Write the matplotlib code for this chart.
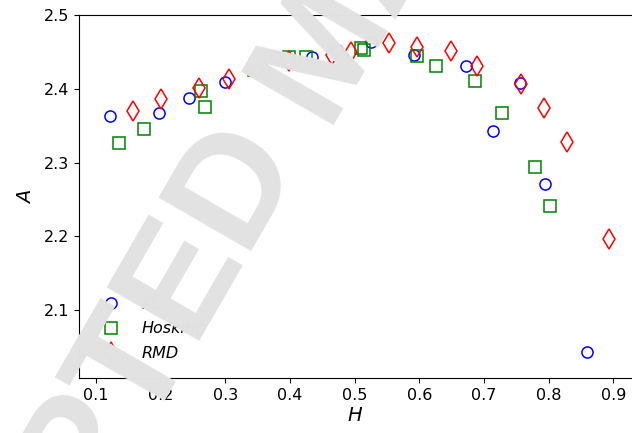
import numpy as np
import matplotlib
matplotlib.use('Agg')
import matplotlib.pyplot as plt

# values
h_blue = [0.122, 0.197, 0.244, 0.299, 0.349, 0.377, 0.434, 0.4735, 0.5255,
          0.592, 0.672, 0.7136, 0.756, 0.795, 0.859]
a_blue = [2.3635, 2.3675, 2.3875, 2.4096, 2.425, 2.4435, 2.4435, 2.4525, 2.463,
          2.4458, 2.4313, 2.343, 2.4074, 2.2704, 2.0426]

h_hosk = [0.1355, 0.175, 0.2623, 0.2694, 0.345, 0.399, 0.425, 0.510, 0.515,
          0.596, 0.6255, 0.686, 0.728, 0.7785, 0.8026]
a_hosk = [2.327, 2.3454, 2.3974, 2.3748, 2.426, 2.4426, 2.4435, 2.455, 2.452,
          2.4444, 2.4313, 2.411, 2.3667, 2.2943, 2.241]

h_rmd = [0.158, 0.2014, 0.2601, 0.3065, 0.3617, 0.3993, 0.4648, 0.4946, 0.5529,
         0.596, 0.649, 0.6888, 0.7569, 0.7924, 0.8284, 0.8929]
a_rmd = [2.3703, 2.3857, 2.401, 2.4128, 2.4232, 2.438, 2.4458, 2.4503, 2.4625,
         2.457, 2.4512, 2.4313, 2.4064, 2.3743, 2.3274, 2.1967]

labels = ['KL', 'Hosking', 'RMD']
x_ticks = [0.1, 0.2, 0.3, 0.4, 0.5, 0.6, 0.7, 0.8, 0.9]
y_ticks = [2.1, 2.2, 2.3, 2.4, 2.5]

fig = plt.figure(figsize=(6.32, 4.33), dpi=100)
ax = fig.add_axes([0.125, 0.127, 0.875, 0.8385])

ax.plot(h_blue, a_blue, 'o', mfc='none', mec='b', mew=1.1, ms=8, label=labels[0])
ax.plot(h_hosk, a_hosk, 's', mfc='none', mec='g', mew=1.1, ms=8, label=labels[1])
ax.plot(h_rmd, a_rmd, 'd', mfc='none', mec='r', mew=1.1, ms=10, label=labels[2])

ax.set_xlim(0.074, 0.929)
ax.set_ylim(2.008, 2.5)
ax.set_xticks(x_ticks)
ax.set_yticks(y_ticks)
ax.tick_params(labelsize=11.5)
ax.spines['right'].set_visible(False)
ax.set_xlabel('$H$', fontsize=14, labelpad=2)
ax.set_ylabel('$A$', fontsize=14, labelpad=6)

leg = ax.legend(loc='lower left', bbox_to_anchor=(0.018, 0.03), frameon=False,
                prop={'style': 'italic', 'size': 11.5}, borderaxespad=0,
                handletextpad=0.9, labelspacing=0.6)

# watermark on top of everything, split at the start of "MANUSCRIPT"
wm = dict(fontsize=112, family='Liberation Sans', fontweight='bold', color='#e2e2e2',
          rotation=60, rotation_mode='anchor', va='baseline', zorder=10)
fig.text(0.513, 0.711, 'ACCEPTED ', ha='right', **wm)
fig.text(0.513, 0.711, 'MANUSCRIPT', ha='left', **wm)

fig.savefig('out.png', dpi=100)
